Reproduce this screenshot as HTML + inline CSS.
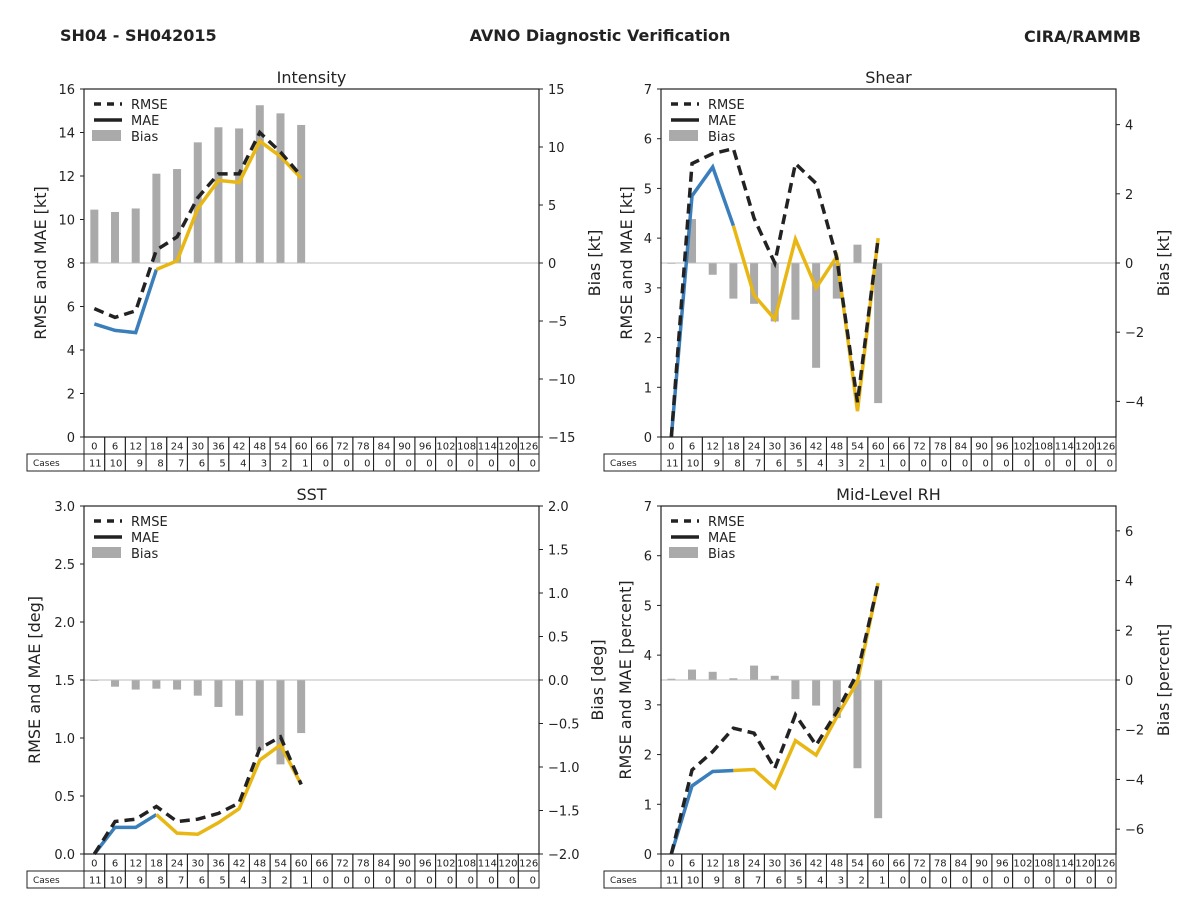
<!DOCTYPE html>
<html><head><meta charset="utf-8"><style>
body{margin:0;background:#fff;font-family:"Liberation Sans","DejaVu Sans",sans-serif}
svg text{font-family:"DejaVu Sans","Liberation Sans",sans-serif;fill:#222}
</style></head><body>
<svg id="c" width="1200" height="900" viewBox="0 0 1200 900">
<text x="60" y="41" font-size="16" font-weight="bold">SH04 - SH042015</text>
<text x="600" y="41" font-size="16" font-weight="bold" text-anchor="middle">AVNO Diagnostic Verification</text>
<text x="1141" y="42" font-size="16" font-weight="bold" text-anchor="end">CIRA/RAMMB</text>
</svg>
<script>
const hours=[0,6,12,18,24,30,36,42,48,54,60,66,72,78,84,90,96,102,108,114,120,126];
const cases=[11,10,9,8,7,6,5,4,3,2,1,0,0,0,0,0,0,0,0,0,0,0];
const intRmse=[5.9,5.5,5.8,8.6,9.2,11.0,12.1,12.1,14.0,13.1,12.0];
const intMae=[5.2,4.9,4.8,7.7,8.1,10.5,11.8,11.7,13.6,12.9,11.9];
const intBias=[4.6,4.4,4.7,7.7,8.1,10.4,11.7,11.6,13.6,12.9,11.9];
const shRmse=[0.0,5.5,5.7,5.8,4.4,3.5,5.5,5.1,3.6,0.7,4.0];
const shMae=[0.0,4.85,5.43,4.25,2.85,2.37,3.98,3.0,3.63,0.52,4.0];
const shBias=[0.0,1.27,-0.34,-1.03,-1.18,-1.69,-1.64,-3.03,-1.03,0.53,-4.05];
const sstRmse=[0.0,0.28,0.30,0.41,0.28,0.30,0.35,0.44,0.91,1.01,0.60];
const sstMae=[0.0,0.23,0.23,0.34,0.18,0.17,0.27,0.39,0.81,0.94,0.60];
const sstBias=[-0.01,-0.077,-0.11,-0.10,-0.11,-0.18,-0.31,-0.41,-0.81,-0.97,-0.61];
const rhRmse=[0.0,1.69,2.06,2.53,2.43,1.72,2.80,2.19,2.86,3.64,5.45];
const rhMae=[0.0,1.37,1.66,1.68,1.70,1.33,2.28,1.99,2.76,3.47,5.45];
const rhBias=[0.05,0.42,0.33,0.07,0.58,0.17,-0.77,-1.03,-1.53,-3.55,-5.56];
const intLT=["0","2","4","6","8","10","12","14","16"], intRT=["15","10","5","0","−5","−10","−15"];
const shLT=["0","1","2","3","4","5","6","7"], shRT=["4","2","0","−2","−4"];
const sstLT=["0.0","0.5","1.0","1.5","2.0","2.5","3.0"], sstRT=["2.0","1.5","1.0","0.5","0.0","−0.5","−1.0","−1.5","−2.0"];
const rhLT=["0","1","2","3","4","5","6","7"], rhRT=["6","4","2","0","−2","−4","−6"];

const svg=document.getElementById('c');const NS='http://www.w3.org/2000/svg';
function mk(t,a,p){const e=document.createElementNS(NS,t);for(const k in a)e.setAttribute(k,a[k]);(p||svg).appendChild(e);return e;}
const num=s=>parseFloat(s.replace('−','-'));
function panel(o){
  const g=mk('g',{});
  
  
  const x0=o.x,y0=o.y,W=455,H=348,cw=W/22;
  const ly=v=>y0+H-(v-o.lmin)/(o.lmax-o.lmin)*H;
  const ry=v=>y0+H-(v-o.rmin)/(o.rmax-o.rmin)*H;
  const cx=i=>x0+cw*(i+0.5);
  // bias bars
  o.bias.forEach((v,i)=>{const b=mk('rect',{x:cx(i)-4,y:Math.min(ry(0),ry(v)),width:8,height:Math.max(Math.abs(ry(v)-ry(0)),0.8),fill:'#aaaaaa'},g);
    
    });
  const zl=mk('line',{x1:x0,x2:x0+W,y1:ry(0),y2:ry(0),stroke:'#bbb','stroke-width':1},g);
  
  
  // MAE
  const pts=a=>a.map((v,i)=>cx(i)+','+ly(v)).join(' ');
  const m1=mk('polyline',{points:pts(o.mae.slice(0,4)),fill:'none',stroke:'#3a7fbb','stroke-width':3.5},g);
  
  
  const m2=mk('polyline',{points:o.mae.slice(3).map((v,i)=>cx(i+3)+','+ly(v)).join(' '),fill:'none',stroke:'#e8b714','stroke-width':3.5},g);
  
  
  const r=mk('polyline',{points:pts(o.rmse),fill:'none',stroke:'#222','stroke-width':3.5,'stroke-dasharray':'10,6'},g);
  
  
  // frame
  const f=mk('rect',{x:x0,y:y0,width:W,height:H,fill:'none',stroke:'#222','stroke-width':1.2},g);
  
  
  // ticks
  o.lt.forEach(s=>{const y=ly(num(s));mk('line',{x1:x0-4,x2:x0,y1:y,y2:y,stroke:'#222'},g);
    const t=mk('text',{x:x0-9,y:y+5,'font-size':13,'text-anchor':'end'},g);t.textContent=s;
    
    });
  o.rt.forEach(s=>{const y=ry(num(s));mk('line',{x1:x0+W,x2:x0+W+4,y1:y,y2:y,stroke:'#222'},g);
    const t=mk('text',{x:x0+W+9,y:y+5,'font-size':13},g);t.textContent=s;
    
    });
  const tt=mk('text',{x:x0+W/2,y:y0-6,'font-size':16,'text-anchor':'middle'},g);tt.textContent=o.title;
  
  
  const yl=mk('text',{x:0,y:0,'font-size':16,'text-anchor':'middle',transform:`translate(${o.llx},${y0+H/2}) rotate(-90)`},g);yl.textContent=o.ll;
  
  
  const yr=mk('text',{x:0,y:0,'font-size':16,'text-anchor':'middle',transform:`translate(${o.rlx},${y0+H/2}) rotate(-90)`},g);yr.textContent=o.rl;
  
  
  // legend
  const lx=x0+10,lyy=y0+15;
  mk('line',{x1:lx,x2:lx+28,y1:lyy,y2:lyy,stroke:'#222','stroke-width':3.5,'stroke-dasharray':'7,6'},g);
  mk('line',{x1:lx,x2:lx+28,y1:lyy+16,y2:lyy+16,stroke:'#222','stroke-width':3.5},g);
  mk('rect',{x:lx-2,y:lyy+26,width:29,height:11,fill:'#aaaaaa'},g);
  [['RMSE',0],['MAE',16],['Bias',32]].forEach(([s,d])=>{const t=mk('text',{x:lx+37,y:lyy+5+d,'font-size':13},g);t.textContent=s;
    
    });
  // table
  const ty=y0+H;
  hours.forEach((h,i)=>{mk('rect',{x:x0+cw*i,y:ty,width:cw,height:17,fill:'none',stroke:'#222','stroke-width':1},g);
    const t=mk('text',{x:cx(i),y:ty+12.5,'font-size':10,'text-anchor':'middle'},g);t.textContent=h;
    
    
    mk('rect',{x:x0+cw*i,y:ty+17,width:cw,height:17,fill:'none',stroke:'#222','stroke-width':1},g);
    const c=mk('text',{x:x0+cw*(i+1)-3,y:ty+29.5,'font-size':10,'text-anchor':'end'},g);c.textContent=cases[i];
    
    });
  mk('rect',{x:x0-57,y:ty+17,width:57,height:17,fill:'none',stroke:'#222','stroke-width':1},g);
  const cl=mk('text',{x:x0-51,y:ty+29,'font-size':9},g);cl.textContent='Cases';
  
  
}
panel({name:'intensity',title:'Intensity',x:84,y:89,lmin:0,lmax:16,rmin:-15,rmax:15,rmse:intRmse,mae:intMae,bias:intBias,lt:intLT,rt:intRT,ll:'RMSE and MAE [kt]',rl:'Bias [kt]',llx:46,rlx:600});
panel({name:'shear',title:'Shear',x:661,y:89,lmin:0,lmax:7,rmin:-5.03,rmax:5.03,rmse:shRmse,mae:shMae,bias:shBias,lt:shLT,rt:shRT,ll:'RMSE and MAE [kt]',rl:'Bias [kt]',llx:632,rlx:1169});
panel({name:'sst',title:'SST',x:84,y:506,lmin:0,lmax:3,rmin:-2,rmax:2,rmse:sstRmse,mae:sstMae,bias:sstBias,lt:sstLT,rt:sstRT,ll:'RMSE and MAE [deg]',rl:'Bias [deg]',llx:40,rlx:603});
panel({name:'mid-level-rh',title:'Mid-Level RH',x:661,y:506,lmin:0,lmax:7,rmin:-7,rmax:7,rmse:rhRmse,mae:rhMae,bias:rhBias,lt:rhLT,rt:rhRT,ll:'RMSE and MAE [percent]',rl:'Bias [percent]',llx:631,rlx:1169});
</script>
</body></html>
